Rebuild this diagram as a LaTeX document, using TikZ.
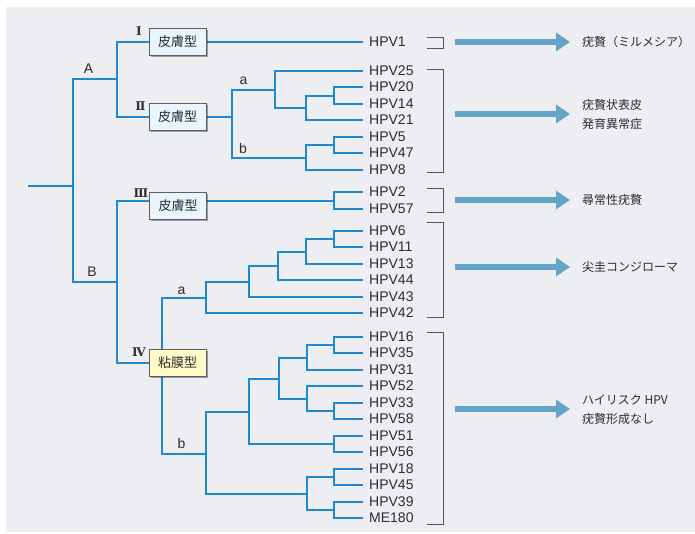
\documentclass[tikz,border=0pt]{standalone}
\usepackage{fontspec}
\setmainfont{Liberation Sans}
\newfontfamily\jpfont{Noto Sans CJK JP}
\newfontfamily\romfont{DejaVu Serif}
\usetikzlibrary{shadows,arrows.meta}
\pgfdeclarelayer{bglayer}
\pgfdeclarelayer{lines}
\pgfsetlayers{bglayer,lines,main}
\definecolor{bgc}{RGB}{237,238,242}
\definecolor{treec}{RGB}{30,136,210}
\definecolor{arrc}{RGB}{100,165,198}
\definecolor{txtc}{RGB}{45,45,45}
\definecolor{boxblue}{RGB}{234,244,252}
\definecolor{boxyel}{RGB}{255,250,200}
\definecolor{boxedge}{RGB}{95,95,95}
\definecolor{brkc}{RGB}{85,85,85}
\begin{document}
\begin{tikzpicture}[x=1pt,y=-1pt,
  tree/.style={draw=treec,line width=2pt},
  leaf/.style={anchor=west,inner sep=0pt,text=txtc,font=\fontsize{14}{16}\selectfont},
  lab/.style={inner sep=0pt,text=txtc,font=\fontsize{14}{16}\selectfont},
  rom/.style={inner sep=0pt,text=txtc,font=\romfont\bfseries\fontsize{12}{14}\selectfont},
  boxbase/.style={draw=boxedge,line width=0.9pt,minimum width=57pt,minimum height=27pt,inner sep=0pt,
    text=txtc,font=\jpfont\fontsize{13}{15}\selectfont,
    drop shadow={shadow xshift=1.5pt,shadow yshift=-1.5pt,opacity=0.35,fill=black}},
  skinbox/.style={boxbase,fill=boxblue},
  mucbox/.style={boxbase,fill=boxyel},
  brk/.style={draw=brkc,line width=0.9pt},
  bigarr/.style={draw=arrc,line width=6pt,-{Triangle[length=14pt,width=18pt]}},
  rlab/.style={anchor=west,inner sep=0pt,align=left,text=txtc,font=\jpfont\fontsize{12}{19}\selectfont}
]
\useasboundingbox (0,0) rectangle (695,533);
\begin{pgfonlayer}{bglayer}
\fill[bgc] (6,7) rectangle (695,532);
\end{pgfonlayer}

% leaves
\foreach \n/\y/\t in {1/42/HPV1, 25/71/HPV25, 20/87/HPV20, 14/104/HPV14, 21/120/HPV21,
  5/137/HPV5, 47/153/HPV47, 8/170/HPV8, 2/192/HPV2, 57/209/HPV57,
  6/231/HPV6, 11/247/HPV11, 13/264/HPV13, 44/280/HPV44, 43/297/HPV43, 42/313/HPV42,
  16/337/HPV16, 35/353/HPV35, 31/370/HPV31, 52/386/HPV52, 33/403/HPV33, 58/419/HPV58,
  51/436/HPV51, 56/452/HPV56, 18/469/HPV18, 45/485/HPV45, 39/502/HPV39, ME/518/ME180}
{
  \coordinate (L\n) at (363,\y);
  \node[leaf] (T\n) at (369,\y) {\t};
}

% boxes
\node[skinbox] (boxI) at (177.5,42) {皮膚型};
\node[skinbox] (boxII) at (177.5,117) {皮膚型};
\node[skinbox] (boxIII) at (178,206) {皮膚型};
\node[mucbox] (boxIV) at (177.5,363) {粘膜型};

% labels
\node[rom] (r1) at (139,31.5) {Ⅰ};
\node[rom] (r2) at (140.5,106.5) {Ⅱ};
\node[rom] (r3) at (141,193) {Ⅲ};
\node[rom] (r4) at (139,352.5) {Ⅳ};
\node[lab] (labA) at (88.5,69) {A};
\node[lab] (labB) at (92,272) {B};
\node[lab] (la2) at (243.5,81) {a};
\node[lab] (lb2) at (243,148.5) {b};
\node[lab] (la4) at (181.5,290.5) {a};
\node[lab] (lb4) at (181.5,443.5) {b};

% internal coordinates
\coordinate (r0) at (28,186);
\coordinate (R) at (73,186);
\coordinate (nA) at (117,79);
\coordinate (nB) at (117,282);
\coordinate (nII) at (232,117);
\coordinate (na2) at (275,90);
\coordinate (nb2) at (306,158);
\coordinate (n202114) at (306,108);
\coordinate (n2014) at (334,96);
\coordinate (n547) at (334,145);
\coordinate (c3w) at (149,201);
\coordinate (c3e) at (206,201);
\coordinate (n257) at (334,201);
\coordinate (nIV) at (162,363);
\coordinate (na4) at (206,298);
\coordinate (n43) at (249,282);
\coordinate (n44) at (278,266);
\coordinate (n13) at (306,252);
\coordinate (n611) at (334,239);
\coordinate (nb4) at (206,454);
\coordinate (nbb1) at (249,412);
\coordinate (nbb2) at (307,494);
\coordinate (n4grp) at (279,379);
\coordinate (n5156) at (334,444);
\coordinate (n31) at (307,358);
\coordinate (n52) at (307,399);
\coordinate (n1635) at (334,345);
\coordinate (n3358) at (334,411);
\coordinate (n1845) at (334,477);
\coordinate (n39me) at (334,510);

\begin{pgfonlayer}{lines}
\draw[tree] (r0) -- (R);
\draw[tree] (R) |- (nA);
\draw[tree] (R) |- (nB);
\draw[tree] (nA) |- (boxI.west);
\draw[tree] (nA) |- (boxII.west);
\draw[tree] (boxI.east) -- (L1);
% II
\draw[tree] (boxII.east) -- (nII);
\draw[tree] (nII) |- (na2);
\draw[tree] (nII) |- (nb2);
\draw[tree] (na2) |- (L25);
\draw[tree] (na2) |- (n202114);
\draw[tree] (n202114) |- (n2014);
\draw[tree] (n202114) |- (L21);
\draw[tree] (n2014) |- (L20);
\draw[tree] (n2014) |- (L14);
\draw[tree] (nb2) |- (n547);
\draw[tree] (nb2) |- (L8);
\draw[tree] (n547) |- (L5);
\draw[tree] (n547) |- (L47);
% III
\draw[tree] (nB) |- (c3w);
\draw[tree] (c3e) -- (n257);
\draw[tree] (n257) |- (L2);
\draw[tree] (n257) |- (L57);
% IV
\draw[tree] (nB) |- (boxIV.west);
\draw[tree] (nIV) |- (na4);
\draw[tree] (nIV) |- (nb4);
\draw[tree] (na4) |- (n43);
\draw[tree] (na4) |- (L42);
\draw[tree] (n43) |- (n44);
\draw[tree] (n43) |- (L43);
\draw[tree] (n44) |- (n13);
\draw[tree] (n44) |- (L44);
\draw[tree] (n13) |- (n611);
\draw[tree] (n13) |- (L13);
\draw[tree] (n611) |- (L6);
\draw[tree] (n611) |- (L11);
\draw[tree] (nb4) |- (nbb1);
\draw[tree] (nb4) |- (nbb2);
\draw[tree] (nbb1) |- (n4grp);
\draw[tree] (nbb1) |- (n5156);
\draw[tree] (n4grp) |- (n31);
\draw[tree] (n4grp) |- (n52);
\draw[tree] (n31) |- (n1635);
\draw[tree] (n31) |- (L31);
\draw[tree] (n1635) |- (L16);
\draw[tree] (n1635) |- (L35);
\draw[tree] (n52) |- (L52);
\draw[tree] (n52) |- (n3358);
\draw[tree] (n3358) |- (L33);
\draw[tree] (n3358) |- (L58);
\draw[tree] (n5156) |- (L51);
\draw[tree] (n5156) |- (L56);
\draw[tree] (nbb2) |- (n1845);
\draw[tree] (nbb2) |- (n39me);
\draw[tree] (n1845) |- (L18);
\draw[tree] (n1845) |- (L45);
\draw[tree] (n39me) |- (L39);
\draw[tree] (n39me) |- (LME);
\end{pgfonlayer}

% brackets
\draw[brk] (427,37) -- (443,37) -- (443,48) -- (427,48);
\draw[brk] (427,69) -- (443,69) -- (443,172) -- (427,172);
\draw[brk] (427,188) -- (443,188) -- (443,212) -- (427,212);
\draw[brk] (427,222) -- (443,222) -- (443,317) -- (427,317);
\draw[brk] (427,332) -- (443,332) -- (443,524) -- (427,524);

% right labels
\node[rlab] (d1) at (582,42) {疣贅（ミルメシア）};
\node[rlab] (d2) at (582,114.5) {疣贅状表皮\\発育異常症};
\node[rlab] (d3) at (582,199.5) {尋常性疣贅};
\node[rlab] (d4) at (582,267) {尖圭コンジローマ};
\node[rlab] (d5) at (582,409.5) {ハイリスク HPV\\疣贅形成なし};

% arrows
\coordinate (as1) at (455,42);  \coordinate (ae1) at (570,42);
\coordinate (as2) at (455,114); \coordinate (ae2) at (570,114);
\coordinate (as3) at (455,200); \coordinate (ae3) at (570,200);
\coordinate (as4) at (455,267); \coordinate (ae4) at (570,267);
\coordinate (as5) at (455,409); \coordinate (ae5) at (570,409);
\draw[bigarr] (as1) -- (ae1);
\draw[bigarr] (as2) -- (ae2);
\draw[bigarr] (as3) -- (ae3);
\draw[bigarr] (as4) -- (ae4);
\draw[bigarr] (as5) -- (ae5);
\end{tikzpicture}
\end{document}
